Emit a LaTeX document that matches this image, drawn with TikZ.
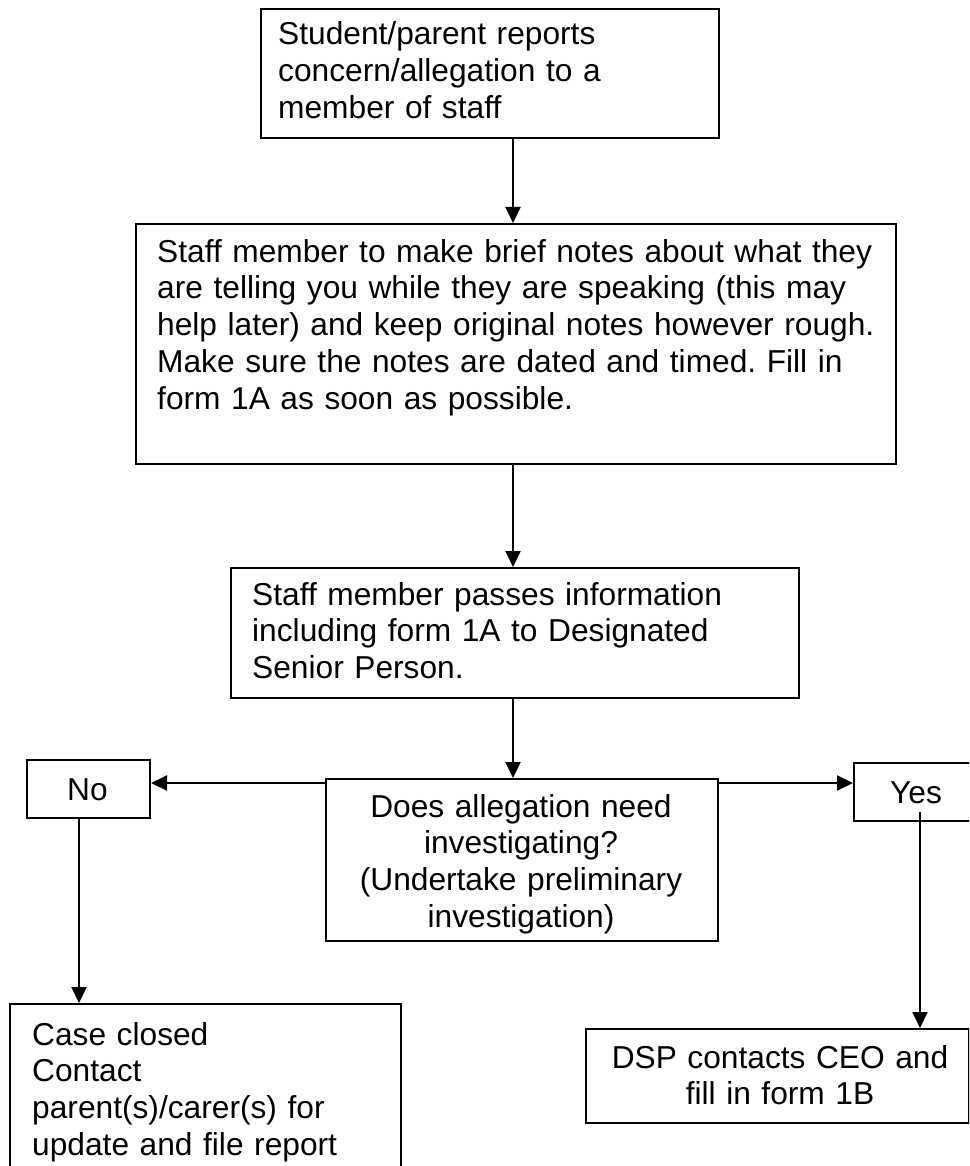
\documentclass[tikz,border=0pt]{standalone}
\usepackage{fontspec}
\setmainfont{Liberation Sans}
\frenchspacing
\usetikzlibrary{arrows.meta}
\tikzset{
 box/.style={draw, line width=2pt, inner sep=0pt, anchor=north west},
 lt/.style={inner sep=0pt, text width=#1, align=left, anchor=base west, font=\fontsize{31.7}{36.8}\selectfont},
 ct/.style={inner sep=0pt, text width=#1, align=center, anchor=base, font=\fontsize{31.7}{36.8}\selectfont},
 arr/.style={line width=2pt, -{Triangle[length=16pt,width=15pt]}},
}
\begin{document}
\begin{tikzpicture}[x=1pt,y=-1pt]
\useasboundingbox (0,0) rectangle (969,1166);
\clip (0,0) rectangle (969,1166);
% boxes
\node[box, minimum width=458pt, minimum height=129pt] (b1) at (260,8) {};
\node[box, minimum width=760pt, minimum height=240pt] (b2) at (135,223) {};
\node[box, minimum width=568pt, minimum height=130pt] (b3) at (230,567) {};
\node[box, minimum width=392pt, minimum height=162pt] (dec) at (325,778) {};
\node[box, minimum width=123pt, minimum height=58pt] (no) at (26,759) {};
\node[box, minimum width=160pt, minimum height=58pt] (yes) at (853,762) {};
\node[box, minimum width=391pt, minimum height=200pt] (case) at (9,1003) {};
\node[box, minimum width=383pt, minimum height=94pt] (dsp) at (585,1028) {};
% texts
\node[lt=440pt] (t1) at (278,45) {Student/parent reports\\concern/allegation to a\\member of staff};
\node[lt=740pt] (t2) at (157,262) {Staff member to make brief notes about what they\\are telling you while they are speaking (this may\\help later) and keep original notes however rough.\\Make sure the notes are dated and timed. Fill in\\form 1A as soon as possible.};
\node[lt=540pt] (t3) at (252,605) {Staff member passes information\\including form 1A to Designated\\Senior Person.};
\node[ct=380pt] (tdec) at (521,817) {Does allegation need\\investigating?\\(Undertake preliminary\\investigation)};
\node[ct=120pt] (tno) at (87.5,800) {No};
\node[ct=100pt] (tyes) at (916,803) {Yes};
\node[lt=380pt] (tcase) at (32,1045) {Case closed\\Contact\\parent(s)/carer(s) for\\update and file report};
\node[ct=370pt] (tdsp) at (780,1068) {DSP contacts CEO and\\fill in form 1B};
% guide coordinates
\coordinate (spine) at (513,0);
\coordinate (hy) at (0,783);
\coordinate (nx) at (79,0);
\coordinate (yx) at (920,0);
% connectors
\draw[arr] (b1.south -| spine) -- (b2.north -| spine);
\draw[arr] (b2.south -| spine) -- (b3.north -| spine);
\draw[arr] (b3.south -| spine) -- (dec.north -| spine);
\draw[arr] (dec.west |- hy) -- (no.east |- hy);
\draw[arr] (dec.east |- hy) -- (yes.west |- hy);
\draw[arr] (no.south -| nx) -- (case.north -| nx);
\draw[arr] ([yshift=10pt]yes.south -| yx) -- (dsp.north -| yx);
\end{tikzpicture}
\end{document}
